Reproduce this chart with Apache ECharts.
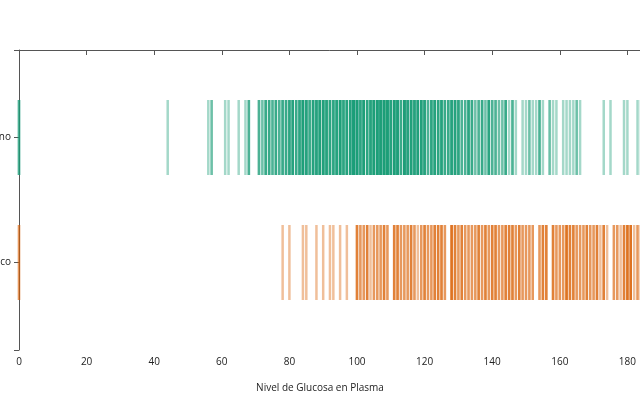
<!DOCTYPE html>
<html>
<head>
<meta charset="utf-8">
<script src="https://cdn.jsdelivr.net/npm/echarts@6/dist/echarts.min.js"></script>
<style>html,body{margin:0;padding:0;background:#fff}#c{width:640px;height:400px}</style>
</head>
<body>
<div id="c"></div>
<script>
// Categories (band order top to bottom)
const categories = ['Sano', 'Diabético'];
const colors = ['#1b9e77', '#d95f02'];
const axisTitle = 'Nivel de Glucosa en Plasma';
const xTicks = [0, 20, 40, 60, 80, 100, 120, 140, 160, 180, 200];

// Glucose values (unique) and number of observations per value
const sanoValues = [0,44,56,57,61,62,65,67,68,71,72,73,74,75,76,77,78,79,80,81,82,83,84,85,86,87,88,89,90,91,92,93,94,95,96,97,98,99,100,101,102,103,104,105,106,107,108,109,110,111,112,113,114,115,116,117,118,119,120,121,122,123,124,125,126,127,128,129,130,131,132,133,134,135,136,137,138,139,140,141,142,143,144,145,146,147,149,150,151,152,153,154,155,157,158,159,161,162,163,164,165,166,173,175,179,180,183,184,187,188,189,195,196,197];
const sanoCounts = [3,1,1,2,1,1,1,1,3,3,2,4,4,3,4,3,4,4,5,6,4,5,8,6,4,6,6,7,7,6,5,5,6,8,5,6,6,12,10,5,8,5,6,9,9,9,12,10,6,9,8,4,10,6,7,6,7,7,6,3,5,6,5,6,4,4,6,6,5,3,3,5,4,2,3,4,2,5,3,3,2,2,4,1,3,1,1,1,2,1,1,3,1,2,1,1,1,1,1,1,2,1,1,1,1,1,1,1,1,1,1,1,1,1];
const diabValues = [0,78,80,84,85,88,90,92,93,95,97,100,101,102,103,104,105,106,107,108,109,111,112,113,114,115,116,117,118,119,120,121,122,123,124,125,126,128,129,130,131,132,133,134,135,136,137,138,139,140,141,142,143,144,145,146,147,148,149,150,151,152,154,155,156,158,159,160,161,162,163,164,165,166,167,168,169,170,171,172,173,174,176,177,178,179,180,181,182,183,184,186,187,188,189,190,193,194,195,196,197,198,199];
const diabCounts = [2,1,1,1,1,1,1,1,1,1,1,3,2,2,3,1,2,2,2,3,2,3,3,2,2,2,3,2,1,2,3,2,2,3,3,3,2,4,3,2,3,2,2,2,2,3,2,3,2,3,3,2,2,3,3,3,2,3,2,2,2,2,2,3,3,3,2,2,2,4,3,3,2,2,2,3,2,2,3,1,3,1,2,2,1,3,4,4,1,2,2,1,3,1,3,1,2,3,1,2,3,1,1];

const groups = [[sanoValues, sanoCounts], [diabValues, diabCounts]];
const rows = [];
groups.forEach(([vals, cnts], ci) => {
  vals.forEach((v, i) => { for (let k = 0; k < cnts[i]; k++) rows.push([v, ci]); });
});

// band layout (band-scale like, padding 0.4 inner and outer)
const PAD = 0.4, BW = 0.6;
const yMax = categories.length - PAD + 2 * PAD; // 2.4
const centers = categories.map((_, i) => i + PAD + BW / 2);

const chart = echarts.init(document.getElementById('c'), null, {renderer: 'canvas'});
const fontFamily = 'Open Sans';
chart.setOption({
  animation: false,
  backgroundColor: '#fff',
  title: {
    text: axisTitle, left: 'center', top: 378,
    textStyle: {fontFamily, fontSize: 10, fontWeight: 'normal', color: '#222'}
  },
  grid: {left: 19, top: 50, width: 676, height: 300, containLabel: false, outerBoundsMode: 'none'},
  xAxis: {
    type: 'value', min: xTicks[0], max: xTicks[xTicks.length - 1], interval: 20,
    axisLine: {show: true, lineStyle: {color: '#555', width: 1}},
    axisTick: {show: true, length: 5, lineStyle: {color: '#555'}},
    axisLabel: {fontFamily, fontSize: 10, color: '#222', margin: 7},
    splitLine: {show: false}
  },
  yAxis: {
    type: 'value', inverse: true, min: 0, max: yMax,
    axisLine: {show: true, onZero: false, lineStyle: {color: '#555', width: 1}},
    axisTick: {show: true, length: 5, lineStyle: {color: '#555'},
      customValues: [0].concat(centers, [yMax])},
    axisLabel: {fontFamily, fontSize: 10, color: '#222', margin: 8,
      customValues: centers,
      formatter: v => categories[Math.round(v - PAD - BW / 2)]},
    splitLine: {show: false}
  },
  series: [{
    type: 'custom',
    clip: false,
    data: rows,
    renderItem: function (params, api) {
      const v = api.value(0), ci = api.value(1);
      const p1 = api.coord([v, ci + PAD]);
      const p2 = api.coord([v, ci + PAD + BW]);
      return {
        type: 'line',
        shape: {x1: p1[0], y1: p1[1], x2: p2[0], y2: p2[1]},
        style: {stroke: colors[ci], lineWidth: 2.5, opacity: 0.4}
      };
    }
  }]
});
</script>
</body>
</html>
